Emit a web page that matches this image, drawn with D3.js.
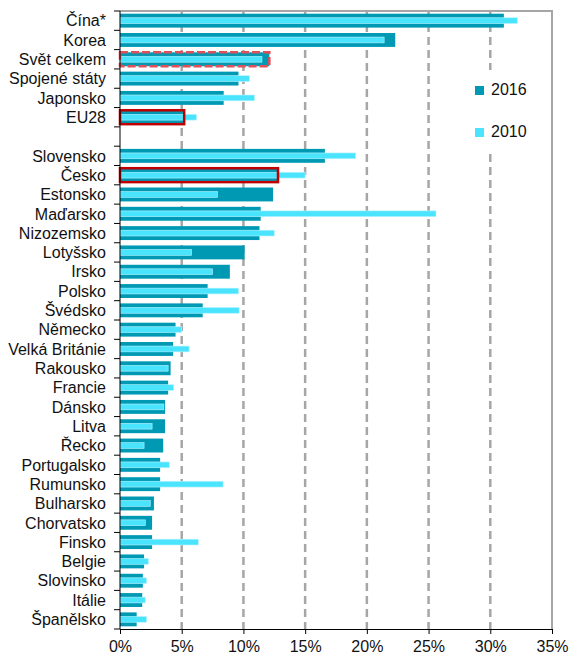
<!DOCTYPE html>
<html>
<head>
<meta charset="utf-8">
<script src="https://cdn.jsdelivr.net/npm/d3@7"></script>
<style>
  body { margin: 0; background: #fff; }
  text { font-family: Arial, "Liberation Sans", sans-serif; }
</style>
</head>
<body>
<svg id="chart"></svg>
<script>
// data (share in %), '' marks the empty separator row
const categories = ['Čína*', 'Korea', 'Svět celkem', 'Spojené státy', 'Japonsko', 'EU28', '',
  'Slovensko', 'Česko', 'Estonsko', 'Maďarsko', 'Nizozemsko', 'Lotyšsko', 'Irsko', 'Polsko',
  'Švédsko', 'Německo', 'Velká Británie', 'Rakousko', 'Francie', 'Dánsko', 'Litva', 'Řecko',
  'Portugalsko', 'Rumunsko', 'Bulharsko', 'Chorvatsko', 'Finsko', 'Belgie', 'Slovinsko',
  'Itálie', 'Španělsko'];
const values2016 = [31.1, 22.3, 12.1, 9.6, 8.4, 5.2, null,
  16.6, 12.8, 12.4, 11.4, 11.3, 10.1, 8.9, 7.1,
  6.7, 4.5, 4.3, 4.1, 3.9, 3.65, 3.65, 3.5,
  3.25, 3.25, 2.75, 2.6, 2.6, 1.95, 1.85,
  1.8, 1.35];
const values2010 = [32.2, 21.4, 11.5, 10.5, 10.9, 6.2, null,
  19.1, 15.0, 7.9, 25.6, 12.5, 5.8, 7.5, 9.6,
  9.65, 5.0, 5.6, 3.9, 4.35, 3.55, 2.6, 1.95,
  4.0, 8.35, 2.45, 2.05, 6.35, 2.3, 2.15,
  2.05, 2.15];
const solidOutline = ['EU28', 'Česko'];
const dashedOutline = ['Svět celkem'];
const series = ['2016', '2010'];
const xTicks = [0, 5, 10, 15, 20, 25, 30, 35];

const width = 569;
const height = 655;
const margin = { top: 11, right: 17, bottom: 26, left: 120 };
const dark = '#0099B4';
const light = '#4BE4FF';

const svg = d3.select('#chart')
  .attr('width', width)
  .attr('height', height);

const keys = categories.map((c, i) => c === '' ? '__gap' + i : c);

const xScale = d3.scaleLinear()
  .domain([0, 35])
  .range([margin.left, width - margin.right]);

const yScale = d3.scaleBand()
  .domain(keys)
  .range([margin.top, height - margin.bottom]);

const bw = yScale.bandwidth();
const rows = keys.map((k, i) => ({
  key: k, name: categories[i], v16: values2016[i], v10: values2010[i]
})).filter(d => d.v16 !== null);

// dashed gridlines
svg.append('g')
  .selectAll('line')
  .data(xTicks.filter(t => t > 0 && t < 35))
  .enter().append('line')
  .attr('x1', d => xScale(d)).attr('x2', d => xScale(d))
  .attr('y1', margin.top).attr('y2', height - margin.bottom)
  .attr('stroke', '#A6A6A6')
  .attr('stroke-width', 2.5)
  .attr('stroke-dasharray', '8,5');

// plot frame (top + right)
svg.append('path')
  .attr('d', `M${xScale(0)},${margin.top}H${xScale(35)}V${height - margin.bottom}`)
  .attr('fill', 'none')
  .attr('stroke', '#A6A6A6')
  .attr('stroke-width', 2);

// 2016 bars
const h16 = bw * 0.72;
svg.append('g')
  .selectAll('rect')
  .data(rows)
  .enter().append('rect')
  .attr('x', xScale(0))
  .attr('y', d => yScale(d.key) + (bw - h16) / 2)
  .attr('width', d => xScale(d.v16) - xScale(0))
  .attr('height', h16)
  .attr('fill', dark);

// 2010 bars
const h10 = bw * 0.3;
svg.append('g')
  .selectAll('rect')
  .data(rows)
  .enter().append('rect')
  .attr('x', xScale(0))
  .attr('y', d => yScale(d.key) + (bw - h10) / 2)
  .attr('width', d => xScale(d.v10) - xScale(0))
  .attr('height', h10)
  .attr('fill', light)
  .attr('stroke', '#B8F4FF')
  .attr('stroke-width', 0.6);

// red outlines on highlighted 2016 bars
svg.append('g')
  .selectAll('rect')
  .data(rows.filter(d => solidOutline.includes(d.name) || dashedOutline.includes(d.name)))
  .enter().append('rect')
  .attr('x', xScale(0))
  .attr('y', d => yScale(d.key) + (bw - h16) / 2)
  .attr('width', d => xScale(d.v16) - xScale(0))
  .attr('height', h16)
  .attr('fill', 'none')
  .attr('stroke', d => dashedOutline.includes(d.name) ? '#E0505A' : '#C00000')
  .attr('stroke-width', 2.5)
  .attr('stroke-dasharray', d => dashedOutline.includes(d.name) ? '8,3' : null);

// legend
const legend = svg.append('g');
legend.append('rect')
  .attr('x', 468).attr('y', 70)
  .attr('width', 82).attr('height', 82)
  .attr('fill', '#fff');
series.forEach((s, i) => {
  const y = 86 + i * 42;
  legend.append('rect')
    .attr('x', 475).attr('y', y)
    .attr('width', 9).attr('height', 9)
    .attr('fill', i === 0 ? dark : light);
  legend.append('text')
    .attr('x', 491).attr('y', y + 9)
    .attr('font-size', 16)
    .attr('fill', '#111')
    .text(s);
});

// y axis (manual: boundary ticks + right-aligned labels)
const yAxis = svg.append('g');
yAxis.append('line')
  .attr('x1', xScale(0)).attr('x2', xScale(0))
  .attr('y1', margin.top).attr('y2', height - margin.bottom)
  .attr('stroke', '#000');
yAxis.selectAll('line.tick')
  .data(keys.concat(['__end']))
  .enter().append('line')
  .attr('class', 'tick')
  .attr('x1', xScale(0) - 6).attr('x2', xScale(0))
  .attr('y1', d => d === '__end' ? height - margin.bottom : yScale(d))
  .attr('y2', d => d === '__end' ? height - margin.bottom : yScale(d))
  .attr('stroke', '#000');
yAxis.selectAll('text')
  .data(rows)
  .enter().append('text')
  .attr('x', 106)
  .attr('y', d => yScale(d.key) + bw / 2)
  .attr('dy', '0.36em')
  .attr('text-anchor', 'end')
  .attr('font-size', 16)
  .attr('fill', '#111')
  .text(d => d.name);

// x axis
const xAxis = d3.axisBottom(xScale)
  .tickValues(xTicks)
  .tickSize(5)
  .tickFormat(d => d + '%');
const gx = svg.append('g')
  .attr('transform', `translate(0, ${height - margin.bottom})`)
  .call(xAxis);
gx.select('.domain').attr('stroke', '#000');
gx.selectAll('line').attr('stroke', '#000');
gx.selectAll('text')
  .attr('font-size', 16)
  .attr('fill', '#111')
  .attr('dy', '0.95em')
  .attr('font-family', 'Arial, "Liberation Sans", sans-serif');
</script>
</body>
</html>
